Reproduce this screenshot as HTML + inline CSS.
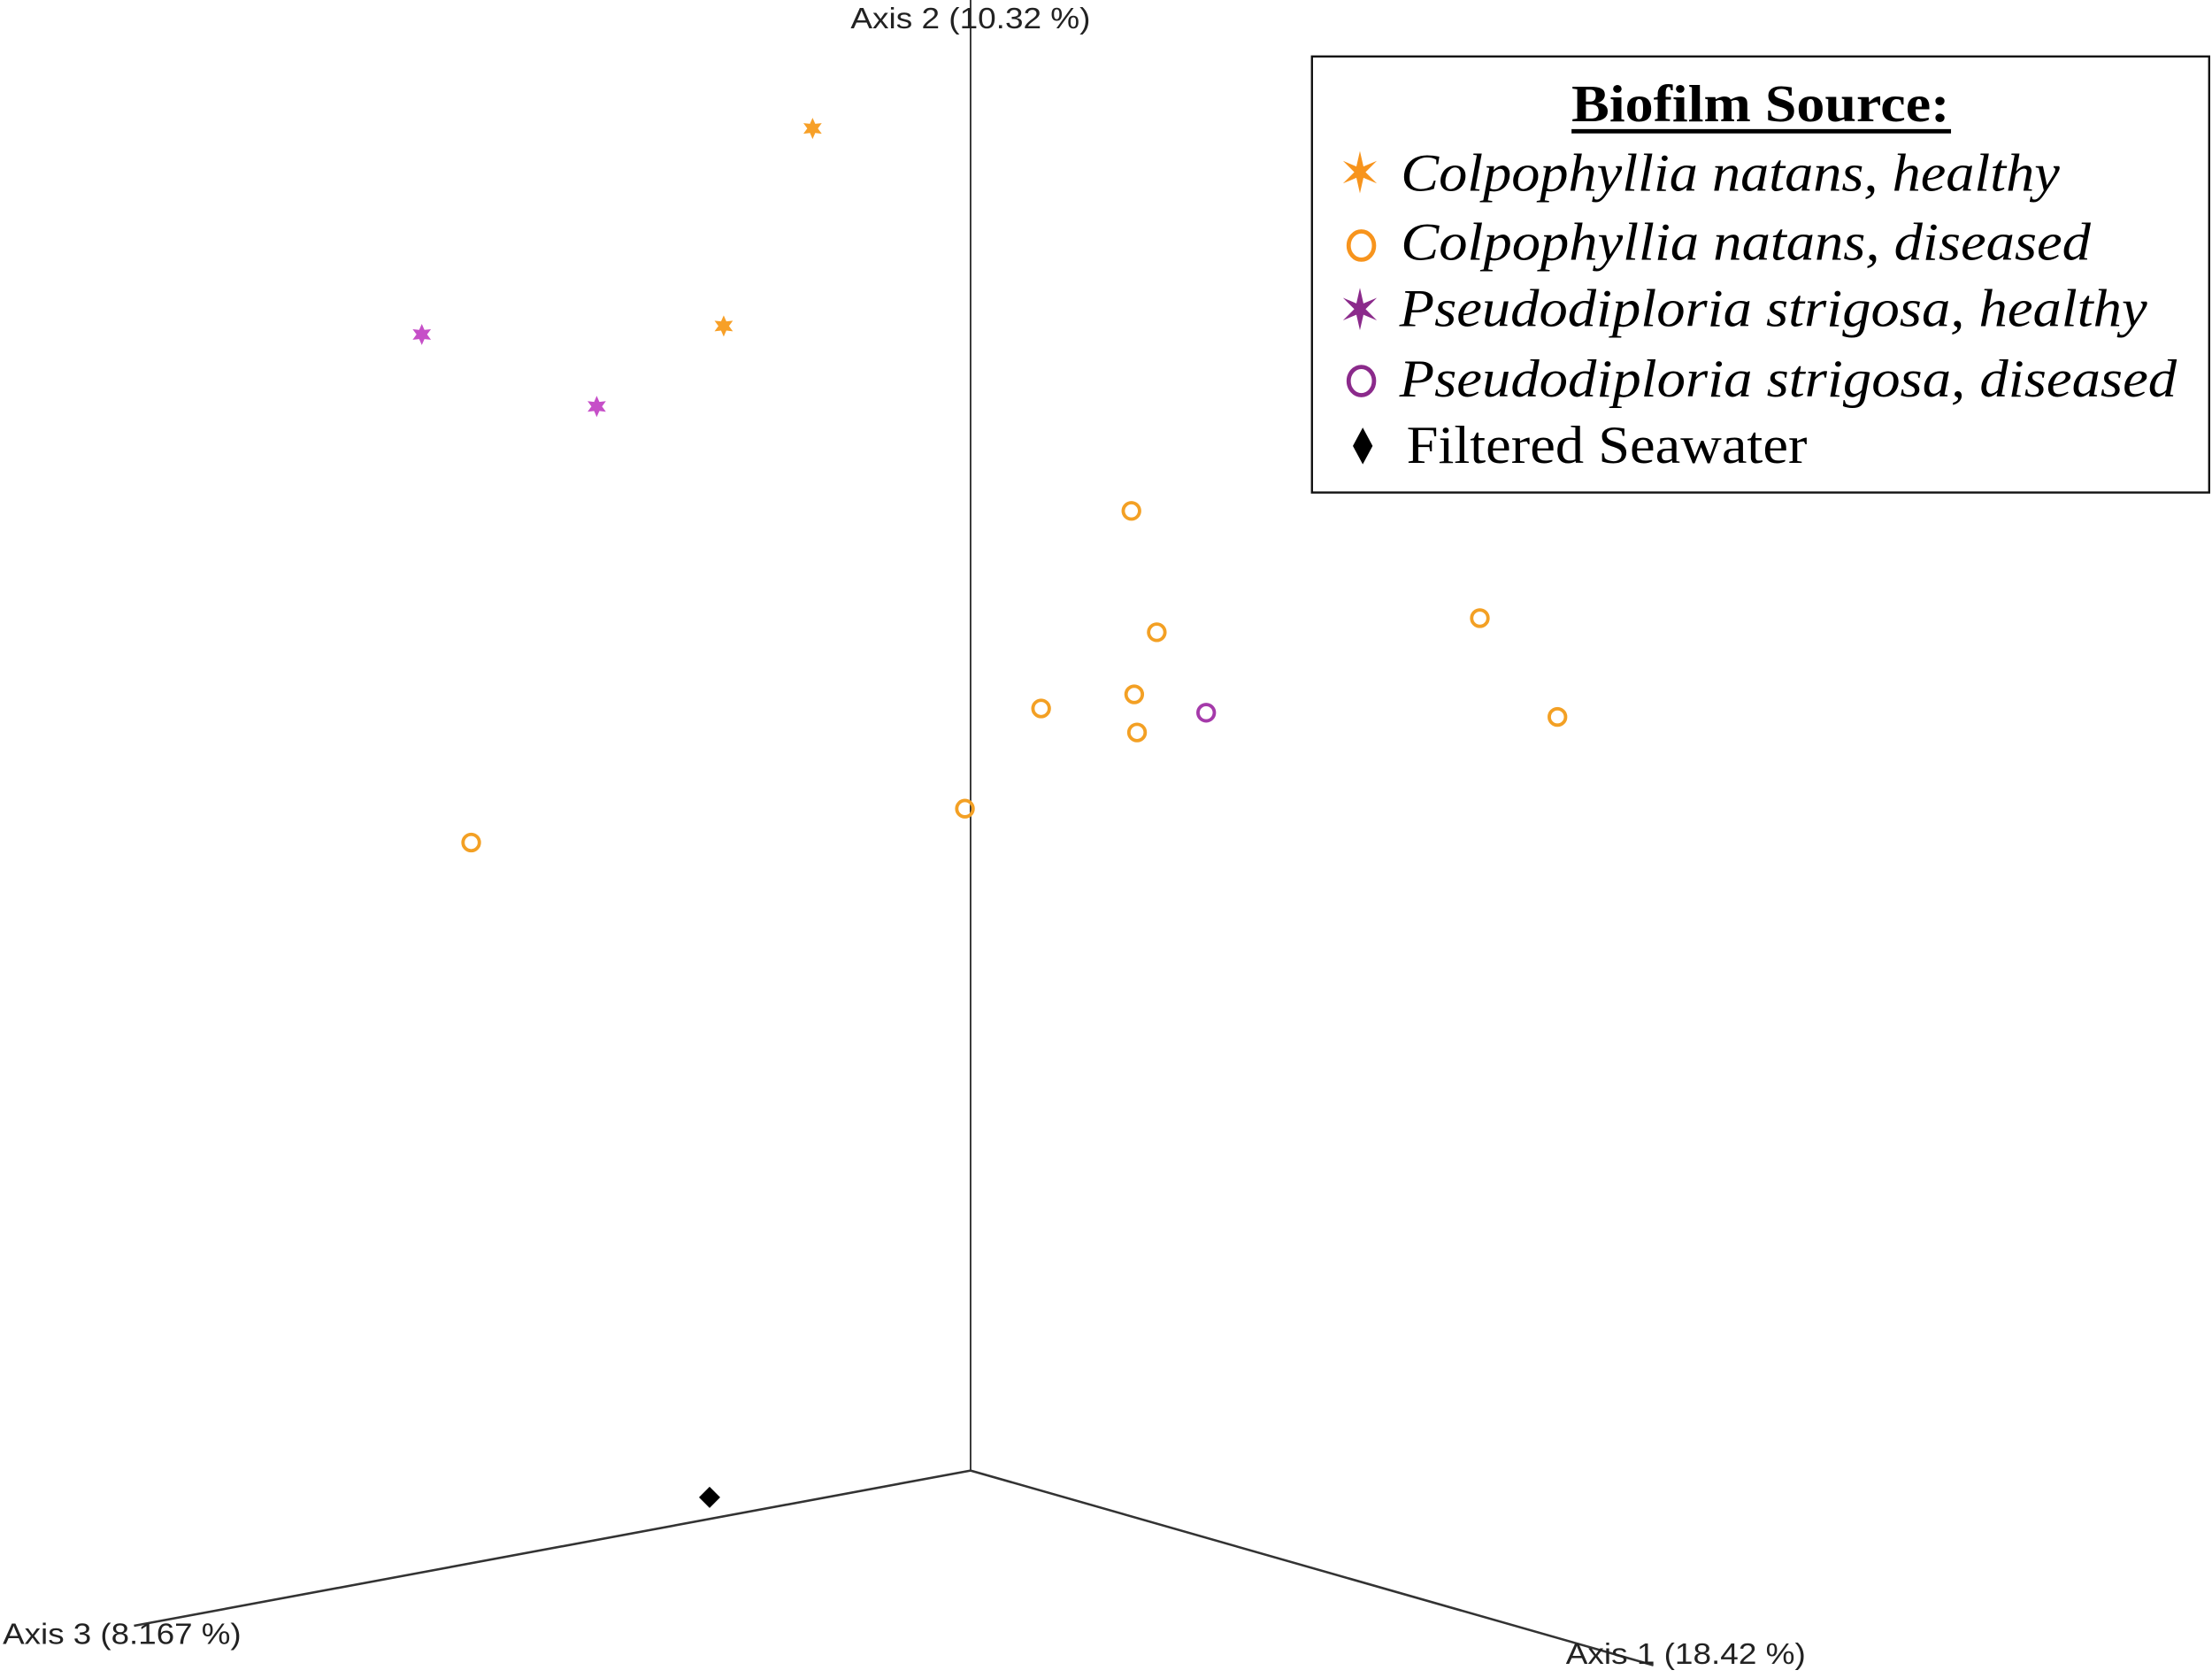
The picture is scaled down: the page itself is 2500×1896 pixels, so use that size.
<!DOCTYPE html>
<html><head><meta charset="utf-8"><style>
html,body{margin:0;padding:0;background:#fff;}
svg{display:block;}
</style></head><body>
<svg id="chart" width="2500" height="1896" viewBox="0 0 1568 1189" preserveAspectRatio="none" xmlns="http://www.w3.org/2000/svg">
<g stroke="#333" stroke-width="1.2">
<line x1="688" y1="0" x2="688" y2="1042"/>
<line x1="688" y1="1042" x2="95" y2="1152" stroke-width="1.6"/>
<line x1="688" y1="1042" x2="1172" y2="1180" stroke-width="1.6"/>
</g>
<g font-family="Liberation Sans, Arial, sans-serif" font-size="21" fill="#222">
<text x="603" y="20" textLength="170" lengthAdjust="spacingAndGlyphs">Axis 2 (10.32 %)</text>
<text x="2" y="1165" textLength="169" lengthAdjust="spacingAndGlyphs">Axis 3 (8.167 %)</text>
<text x="1110" y="1179" textLength="170" lengthAdjust="spacingAndGlyphs">Axis 1 (18.42 %)</text>
</g>
<g id="marks"></g>
<g>
<rect x="930" y="40" width="636" height="309" fill="#fff" stroke="#111" stroke-width="1.5"/>
<text x="1248" y="86" text-anchor="middle" font-family="Liberation Serif, serif" font-weight="bold" font-size="37" textLength="268" lengthAdjust="spacingAndGlyphs">Biofilm Source:</text>
<line x1="1114" y1="93" x2="1383" y2="93" stroke="#000" stroke-width="3"/>
<g>
<path d="M964 107 L966.5 118 L976 114 L968 122 L976 130 L966.5 126 L964 137 L961.5 126 L952 130 L960 122 L952 114 L961.5 118 Z" fill="#f7941d"/>
<text x="993" y="135" font-family="Liberation Serif, serif" font-style="italic" font-size="38" textLength="467" lengthAdjust="spacingAndGlyphs">Colpophyllia natans, healthy</text></g>
<g>
<ellipse cx="965" cy="174" rx="9" ry="10" fill="none" stroke="#f7941d" stroke-width="3"/>
<text x="993" y="184" font-family="Liberation Serif, serif" font-style="italic" font-size="38" textLength="489" lengthAdjust="spacingAndGlyphs">Colpophyllia natans, diseased</text></g>
<g>
<path d="M964 204 L966.5 215 L976 211 L968 219 L976 227 L966.5 223 L964 234 L961.5 223 L952 227 L960 219 L952 211 L961.5 215 Z" fill="#8b2a8b"/>
<text x="992" y="231" font-family="Liberation Serif, serif" font-style="italic" font-size="38" textLength="530" lengthAdjust="spacingAndGlyphs">Pseudodiploria strigosa, healthy</text></g>
<g>
<ellipse cx="965" cy="270" rx="9" ry="10" fill="none" stroke="#8b2a8b" stroke-width="3"/>
<text x="992" y="281" font-family="Liberation Serif, serif" font-style="italic" font-size="38" textLength="551" lengthAdjust="spacingAndGlyphs">Pseudodiploria strigosa, diseased</text></g>
<g>
<path d="M966 303 L973 316 L966 329 L959 316 Z" fill="#000"/>
<text x="997" y="328" font-family="Liberation Serif, serif" font-size="38" textLength="284" lengthAdjust="spacingAndGlyphs">Filtered Seawater</text></g>
</g>
</svg>
<script>
// projected ordination coordinates (screen-plane units, origin at axes intersection)
const cnHealthyX = [-112, -175];
const cnHealthyY = [951, 811];
const psHealthyX = [-389, -265];
const psHealthyY = [805, 754];
const cnDiseasedX = [114, 132, 361, 50, 116, 118, 416, -4, -354];
const cnDiseasedY = [680, 594, 604, 540, 550, 523, 534, 469, 445];
const psDiseasedX = [167];
const psDiseasedY = [537];
const seawaterX = [-185];
const seawaterY = [-19];

const originX = 688, originY = 1042;
function xScale(v){ return originX + v; }
function yScale(v){ return originY - v; }
const NS = 'http://www.w3.org/2000/svg';
const g = document.getElementById('marks');

function star(cx, cy, r, color){
  let d = '';
  for (let i = 0; i < 12; i++){
    const a = Math.PI / 6 * i - Math.PI / 2;
    const rr = i % 2 === 0 ? r : r * 0.5;
    d += (i ? 'L' : 'M') + (cx + rr * Math.cos(a)).toFixed(2) + ' ' + (cy + rr * Math.sin(a)).toFixed(2);
  }
  const p = document.createElementNS(NS, 'path');
  p.setAttribute('d', d + 'Z');
  p.setAttribute('fill', color);
  return p;
}
function drawStars(xs, ys, color, name){
  xs.forEach((v, i) => {
    const p = star(xScale(v), yScale(ys[i]), 7.5, color);
    
    
    g.appendChild(p);
  });
}
function drawCircles(xs, ys, color, name){
  xs.forEach((v, i) => {
    const c = document.createElementNS(NS, 'circle');
    c.setAttribute('cx', xScale(v));
    c.setAttribute('cy', yScale(ys[i]));
    c.setAttribute('r', 5.8);
    c.setAttribute('fill', 'none');
    c.setAttribute('stroke', color);
    c.setAttribute('stroke-width', 2.4);
    
    
    g.appendChild(c);
  });
}
drawStars(cnHealthyX, cnHealthyY, '#f7a028', 'point-cn-healthy');
drawStars(psHealthyX, psHealthyY, '#c64fc8', 'point-ps-healthy');
drawCircles(cnDiseasedX, cnDiseasedY, '#f3a024', 'point-cn-diseased');
drawCircles(psDiseasedX, psDiseasedY, '#a53aaa', 'point-ps-diseased');
seawaterX.forEach((v, i) => {
  const cx = xScale(v), cy = yScale(seawaterY[i]);
  const p = document.createElementNS(NS, 'path');
  p.setAttribute('d', `M${cx} ${cy-7.5} L${cx+7.5} ${cy} L${cx} ${cy+7.5} L${cx-7.5} ${cy} Z`);
  p.setAttribute('fill', '#000');
  
  
  g.appendChild(p);
});
</script>
</body></html>
